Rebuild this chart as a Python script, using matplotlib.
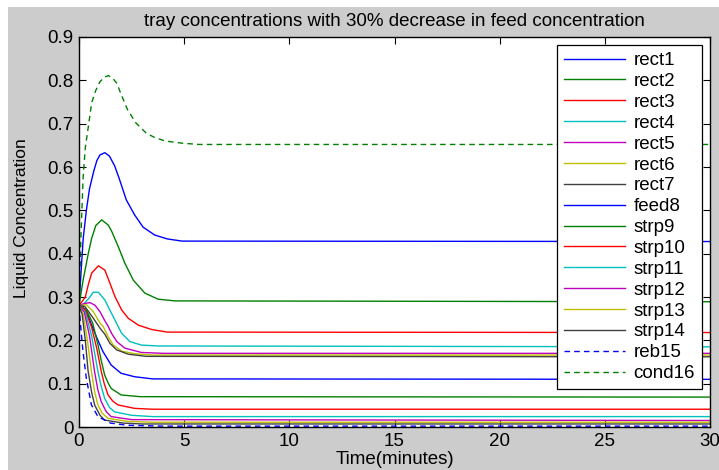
import matplotlib
matplotlib.use("Agg")
import matplotlib.pyplot as plt
from matplotlib.patches import Rectangle

plt.rcParams["font.family"] = ["Liberation Sans", "DejaVu Sans"]

# tray liquid concentration responses (time in minutes)
rect1_t = [0, 0.1, 0.2, 0.35, 0.5, 0.7, 0.85, 1.0, 1.23, 1.45, 1.7, 1.9, 2.25, 2.65, 3.05, 3.6, 4.2, 4.9, 30]
rect1_v = [0.28, 0.36, 0.435, 0.50, 0.55, 0.59, 0.615, 0.628, 0.633, 0.625, 0.602, 0.575, 0.524, 0.489, 0.461, 0.443, 0.434, 0.429, 0.428]

rect2_t = [0, 0.2, 0.44, 0.6, 0.8, 1.08, 1.39, 1.55, 1.87, 2.18, 2.58, 3.13, 3.76, 4.56, 30]
rect2_v = [0.28, 0.34, 0.40, 0.435, 0.465, 0.478, 0.466, 0.452, 0.416, 0.378, 0.339, 0.309, 0.295, 0.291, 0.289]

rect3_t = [0, 0.3, 0.45, 0.6, 0.92, 1.23, 1.47, 1.71, 2.03, 2.34, 2.82, 3.45, 4.2, 30]
rect3_v = [0.28, 0.30, 0.33, 0.355, 0.372, 0.362, 0.332, 0.301, 0.270, 0.251, 0.235, 0.225, 0.219, 0.218]

rect4_t = [0, 0.2, 0.44, 0.68, 0.92, 1.23, 1.55, 1.8, 2.03, 2.42, 2.97, 3.76, 30]
rect4_v = [0.28, 0.283, 0.295, 0.311, 0.311, 0.293, 0.262, 0.238, 0.216, 0.197, 0.189, 0.187, 0.185]

rect5_t = [0, 0.25, 0.52, 0.76, 1.0, 1.23, 1.39, 1.55, 1.8, 2.18, 2.97, 4.0, 30]
rect5_v = [0.28, 0.285, 0.287, 0.281, 0.266, 0.245, 0.232, 0.216, 0.197, 0.182, 0.172, 0.170, 0.170]

rect6_t = [0, 0.36, 0.68, 1.0, 1.15, 1.39, 1.63, 2.03, 2.66, 3.5, 30]
rect6_v = [0.28, 0.282, 0.266, 0.240, 0.232, 0.208, 0.189, 0.175, 0.169, 0.166, 0.166]

rect7_t = [0, 0.28, 0.68, 1.0, 1.23, 1.47, 1.79, 2.34, 3.2, 30]
rect7_v = [0.28, 0.278, 0.251, 0.228, 0.214, 0.193, 0.178, 0.168, 0.163, 0.162]

feed8_t = [0, 0.3, 0.66, 0.9, 1.14, 1.53, 2.0, 2.64, 3.5, 30]
feed8_v = [0.28, 0.272, 0.228, 0.2, 0.174, 0.143, 0.124, 0.116, 0.111, 0.11]

strp9_t = [0, 0.35, 0.65, 0.9, 1.05, 1.22, 1.4, 1.53, 2.0, 2.9, 30]
strp9_v = [0.28, 0.27, 0.24, 0.19, 0.155, 0.12, 0.1, 0.089, 0.074, 0.07, 0.069]

strp10_t = [0, 0.3, 0.6, 0.85, 1.06, 1.2, 1.38, 1.6, 1.85, 2.64, 3.5, 30]
strp10_v = [0.28, 0.27, 0.23, 0.18, 0.128, 0.1, 0.074, 0.06, 0.051, 0.043, 0.041, 0.041]

strp11_t = [0, 0.3, 0.6, 0.9, 1.05, 1.22, 1.45, 1.69, 2.5, 3.5, 30]
strp11_v = [0.28, 0.265, 0.21, 0.128, 0.095, 0.066, 0.045, 0.035, 0.027, 0.024, 0.024]

strp12_t = [0, 0.25, 0.5, 0.74, 0.9, 1.06, 1.3, 1.53, 2.5, 30]
strp12_v = [0.28, 0.265, 0.21, 0.128, 0.085, 0.058, 0.035, 0.024, 0.017, 0.015]

strp13_t = [0, 0.2, 0.4, 0.59, 0.75, 0.9, 1.1, 1.38, 2.3, 3.5, 30]
strp13_v = [0.28, 0.26, 0.2, 0.128, 0.08, 0.051, 0.032, 0.02, 0.013, 0.011, 0.011]

strp14_t = [0, 0.15, 0.3, 0.43, 0.6, 0.75, 1.0, 1.22, 2.1, 3.0, 30]
strp14_v = [0.28, 0.26, 0.2, 0.13, 0.08, 0.05, 0.027, 0.016, 0.009, 0.007, 0.007]

reb15_t = [0, 0.05, 0.12, 0.19, 0.35, 0.59, 0.9, 1.5, 2.3, 4.0, 30]
reb15_v = [0.28, 0.25, 0.21, 0.174, 0.112, 0.051, 0.024, 0.009, 0.004, 0.002, 0.002]

cond16_t = [0, 0.1, 0.2, 0.3, 0.45, 0.6, 0.8, 1.0, 1.2, 1.4, 1.6, 1.8, 2.0, 2.3, 2.7, 3.2, 3.6, 4.1, 4.9, 5.7, 30]
cond16_v = [0.28, 0.45, 0.58, 0.645, 0.695, 0.748, 0.777, 0.797, 0.807, 0.811, 0.805, 0.793, 0.768, 0.733, 0.702, 0.678, 0.668, 0.660, 0.655, 0.652, 0.652]

labels = ["rect1", "rect2", "rect3", "rect4", "rect5", "rect6", "rect7", "feed8",
          "strp9", "strp10", "strp11", "strp12", "strp13", "strp14", "reb15", "cond16"]
series = [(rect1_t, rect1_v), (rect2_t, rect2_v), (rect3_t, rect3_v), (rect4_t, rect4_v),
          (rect5_t, rect5_v), (rect6_t, rect6_v), (rect7_t, rect7_v), (feed8_t, feed8_v),
          (strp9_t, strp9_v), (strp10_t, strp10_v), (strp11_t, strp11_v), (strp12_t, strp12_v),
          (strp13_t, strp13_v), (strp14_t, strp14_v), (reb15_t, reb15_v), (cond16_t, cond16_v)]

# old MATLAB colour order, cycled
color_order = [(0, 0, 1), (0, 0.5, 0), (1, 0, 0), (0, 0.75, 0.75),
               (0.75, 0, 0.75), (0.75, 0.75, 0), (0.25, 0.25, 0.25)]

fs = 13.5

fig = plt.figure(figsize=(7.19, 4.70), dpi=100, facecolor="white")
# grey figure area, the strip along top and left stays white
fig.patches.append(Rectangle((8 / 719, 0), 1, 1 - 7 / 470, transform=fig.transFigure,
                             facecolor=(0.8, 0.8, 0.8), edgecolor="none", zorder=-1))

ax = fig.add_axes([79 / 719, 43 / 470, 631 / 719, 390 / 470])
ax.set_facecolor("white")

for i, ((t, v), lab) in enumerate(zip(series, labels)):
    col = color_order[i % 7]
    if lab in ("reb15", "cond16"):
        line, = ax.plot(t, v, color=col, linewidth=1.0, label=lab)
        line.set_dashes((4, 3))
    else:
        ax.plot(t, v, color=col, linewidth=1.0, label=lab)

ax.set_xlim(0, 30)
ax.set_ylim(0, 0.9)
ax.set_xticks(range(0, 31, 5))
ax.set_yticks([i / 10 for i in range(10)])
ax.set_yticklabels(["0"] + ["%.1f" % (i / 10) for i in range(1, 10)])
ax.tick_params(direction="in", length=5, width=0.8, top=True, right=True,
               labelsize=fs, pad=4, colors="black")

for s in ax.spines.values():
    s.set_linewidth(1.0)

ax.set_title("tray concentrations with 30% decrease in feed concentration", fontsize=fs, pad=8)
ax.set_xlabel("Time(minutes)", fontsize=fs, labelpad=1)
ax.set_ylabel("Liquid Concentration", fontsize=12.5)
ax.yaxis.set_label_coords(-0.079, 0.536)

leg = ax.legend(loc="upper right", fontsize=fs, frameon=True, fancybox=False,
                framealpha=1, edgecolor="black", handlelength=3.3, handletextpad=0.43,
                labelspacing=0.2, borderaxespad=0.45, borderpad=0.35)
leg.get_frame().set_linewidth(0.9)

fig.savefig("out.png", dpi=100, facecolor=fig.get_facecolor())
